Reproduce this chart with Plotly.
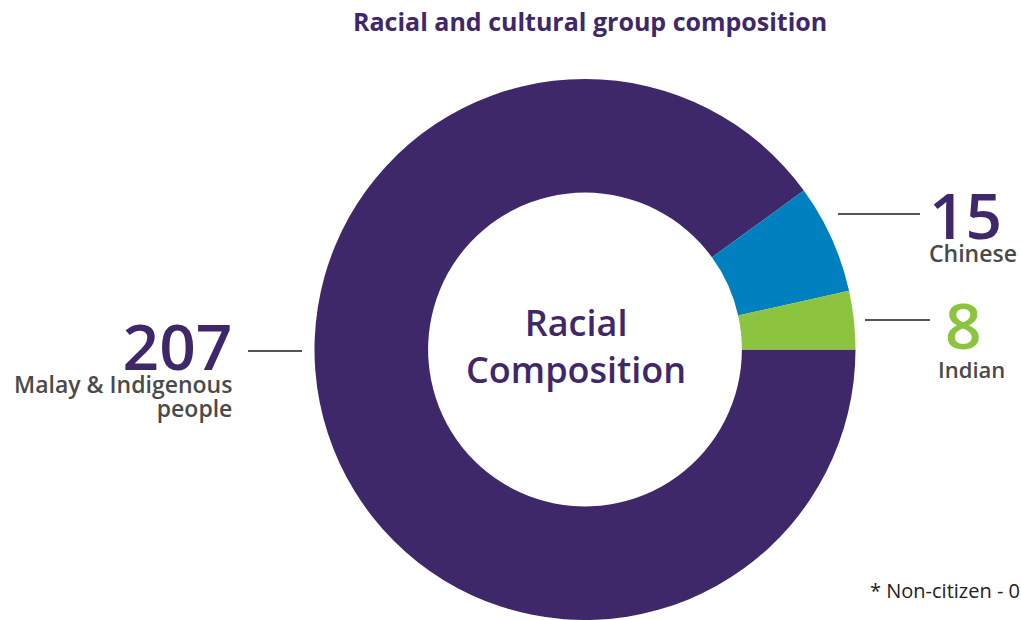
import plotly.graph_objects as go

categories = ["Malay & Indigenous people", "Chinese", "Indian"]
values = [207, 15, 8]
colors = ["#3F2869", "#0080BF", "#8CC43F"]
title_text = "Racial and cultural group composition"
center_text = "Racial<br>Composition"
note_text = "* Non-citizen - 0"
label_texts = ["Malay & Indigenous<br>people", "Chinese", "Indian"]
number_colors = ["#3F2869", "#3F2869", "#8CC43F"]

W, H = 1021, 620
FONT = "Open Sans"
PURPLE = "#3F2869"
GREY = "#4A4A4A"

def px(x):
    return x / W

def py(y):
    return 1 - y / H

fig = go.Figure()
fig.add_trace(go.Pie(
    labels=categories,
    values=values,
    marker=dict(colors=colors, line=dict(width=0)),
    hole=0.58,
    sort=False,
    direction="clockwise",
    rotation=90,
    textinfo="none",
    hoverinfo="label+value",
    showlegend=False,
    domain=dict(x=[px(585 - 272), px(585 + 272)], y=[0, py(350 - 271)]),
))

def f(size, color, weight=600):
    return dict(size=size, color=color, family=FONT, weight=weight)

def group_text(i, label_size, suffix=""):
    num = "<span style='font-size:64px;color:%s'>%d%s</span>" % (number_colors[i], values[i], suffix)
    lab = ("<span style='font-size:%dpx'>" % label_size) + label_texts[i].replace(
        "<br>", "</span><br><span style='font-size:%dpx'>" % label_size) + "</span>"
    return num + "<br>" + lab

annotations = [
    dict(x=px(590), y=py(21), text=title_text, font=f(25, PURPLE, 700),
         xanchor="center", yanchor="middle"),
    dict(x=px(576), y=py(346), text=center_text, font=f(36, PURPLE),
         xanchor="center", yanchor="middle"),
    dict(x=px(234), y=py(300), text=group_text(0, 23), font=f(18, GREY),
         xanchor="right", yanchor="top", align="right"),
    dict(x=px(927), y=py(169), text=group_text(1, 23), font=f(18, GREY),
         xanchor="left", yanchor="top", align="left"),
    dict(x=px(971), y=py(279), text=group_text(2, 22, "\u00a0"), font=f(22, GREY),
         xanchor="center", yanchor="top", align="center"),
    dict(x=px(868), y=py(590), text=note_text, font=f(20, "#222222", 400),
         xanchor="left", yanchor="middle"),
]
for a in annotations:
    a.update(xref="paper", yref="paper", showarrow=False)

line_style = dict(color="#555555", width=2)
shapes = [
    dict(type="line", x0=px(248), x1=px(302), y0=py(351), y1=py(351), line=line_style),
    dict(type="line", x0=px(838), x1=px(920), y0=py(214), y1=py(214), line=line_style),
    dict(type="line", x0=px(865), x1=px(930), y0=py(320), y1=py(320), line=line_style),
]
for s in shapes:
    s.update(xref="paper", yref="paper")

fig.update_layout(
    width=W, height=H,
    margin=dict(l=0, r=0, t=0, b=0),
    paper_bgcolor="white",
    plot_bgcolor="white",
    annotations=annotations,
    shapes=shapes,
)

fig.write_html("out.html")
